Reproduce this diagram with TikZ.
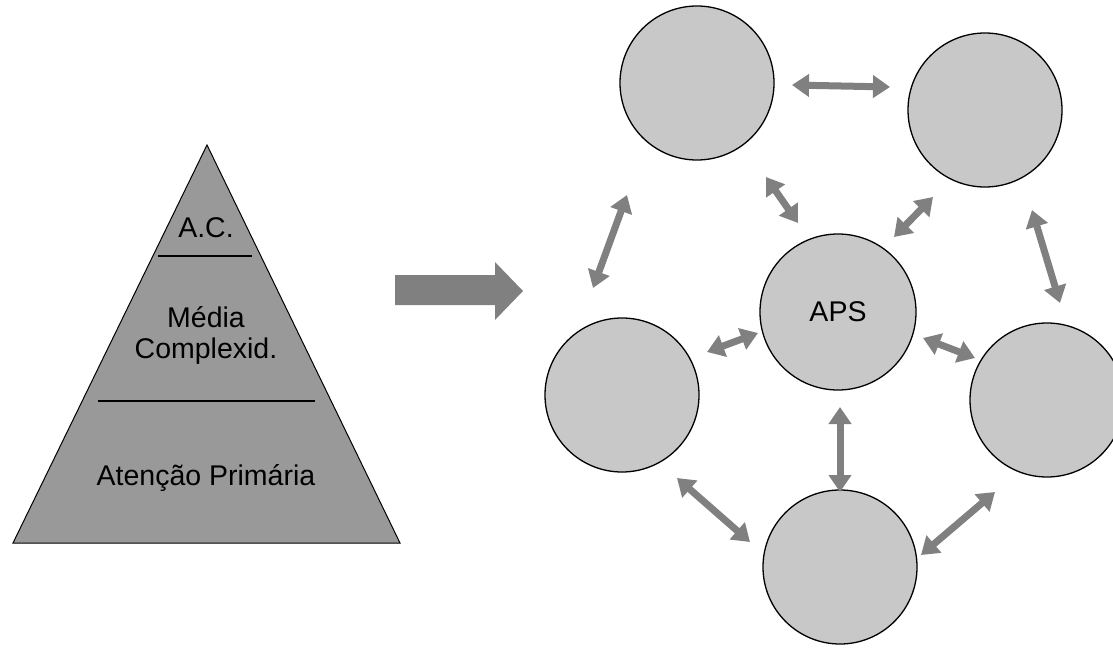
\documentclass[tikz,border=0pt]{standalone}
\usepackage{fontspec}
\setmainfont{Liberation Sans}
\usetikzlibrary{arrows.meta}
\definecolor{pyrgray}{HTML}{999999}
\definecolor{circgray}{HTML}{C8C8C8}
\definecolor{arrgray}{HTML}{808080}
\tikzset{
  bubble/.style={circle, draw=black, line width=1.3pt, fill=circgray, minimum size=154pt, inner sep=0pt},
  darr/.style={draw=arrgray, line width=7pt, {Triangle[width=22pt,length=17pt]}-{Triangle[width=22pt,length=17pt]}},
  lbl/.style={font=\fontsize{28.5}{31}\selectfont, align=center, inner sep=0pt},
  divider/.style={draw=black, line width=1.5pt}
}
\begin{document}
\begin{tikzpicture}[x=1pt,y=-1pt]
\useasboundingbox (0,0) rectangle (1113,650);
\clip (0,0) rectangle (1113,650);
% pyramid
\draw[fill=pyrgray, line width=1pt] (207,145) -- (400,543) -- (13,543) -- cycle;
\draw[divider] (158,256) -- (252,256);
\draw[divider] (98,401) -- (315,401);
\node[lbl] (ac) at (206,228) {A.C.};
\node[lbl] (mc) at (206,335) {Média\\Complexid.};
\node[lbl] (ap) at (206,478) {Atenção Primária};
% big arrow
\fill[arrgray] (395,275) -- (495,275) -- (495,262) -- (523,291) -- (495,320) -- (495,305) -- (395,305) -- cycle;
% circles
\node[bubble] (tl) at (697,83) {};
\node[bubble] (tr) at (985,110) {};
\node[bubble, lbl, minimum size=156pt] (aps) at (838,312) {APS};
\node[bubble] (le) at (622,395) {};
\node[bubble] (ri) at (1047,400) {};
\node[bubble] (bo) at (840,567) {};
% arrow end points
\coordinate (a1) at (792,85);  \coordinate (b1) at (890,87);
\coordinate (a2) at (766,177); \coordinate (b2) at (798,223);
\coordinate (a3) at (894,237); \coordinate (b3) at (933,197);
\coordinate (a4) at (627,195); \coordinate (b4) at (593,288);
\coordinate (a5) at (1032,210); \coordinate (b5) at (1060,303);
\coordinate (a6) at (707,352); \coordinate (b6) at (758,333);
\coordinate (a7) at (923,338); \coordinate (b7) at (975,358);
\coordinate (a8) at (840,407); \coordinate (b8) at (840,492);
\coordinate (a9) at (677,478); \coordinate (b9) at (750,542);
\coordinate (a10) at (995,492); \coordinate (b10) at (921,555);
\foreach \i in {1,...,10} { \draw[darr] (a\i) -- (b\i); }
\end{tikzpicture}
\end{document}
